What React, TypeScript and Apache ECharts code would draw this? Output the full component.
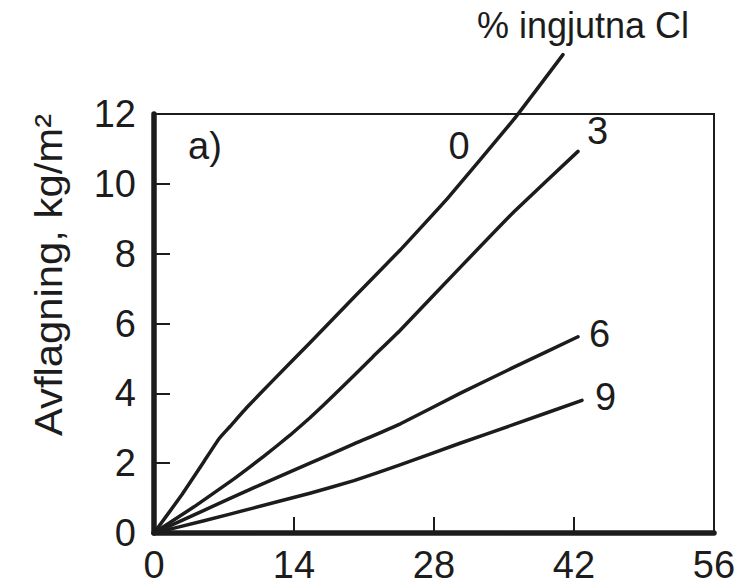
import React, { useEffect, useRef } from "react";
import * as echarts from "echarts";

const xTicks = [0, 14, 28, 42, 56];
const yTicks = [0, 2, 4, 6, 8, 10, 12];
const seriesNames = ["0", "3", "6", "9"];

const curve0: [number, number][] = [
  [0, 0], [2.8, 1.1], [5, 2.05], [6.5, 2.7], [7.6, 3.05], [9.3, 3.6], [12, 4.4],
  [15.6, 5.45], [20, 6.75], [24.6, 8.1], [29.4, 9.6], [36, 11.85], [40.9, 13.7],
];
const curve3: [number, number][] = [
  [0, 0], [4, 0.75], [8, 1.55], [11, 2.2], [13.6, 2.8], [15.6, 3.3], [18, 3.95],
  [21.9, 5.05], [24.6, 5.8], [30.6, 7.6], [36, 9.2], [42.4, 10.93],
];
const curve6: [number, number][] = [
  [0, 0], [5, 0.65], [10, 1.3], [15.6, 2.0], [20, 2.55], [24.6, 3.12], [30.6, 4.0],
  [36, 4.75], [42.4, 5.62],
];
const curve9: [number, number][] = [
  [0, 0], [5, 0.35], [10, 0.72], [15.6, 1.14], [20, 1.5], [24.6, 1.95], [30.6, 2.57],
  [36, 3.11], [42.8, 3.8],
];

const FONT = "'Liberation Sans', Arial, Helvetica, sans-serif";
const INK = "#1c1c1c";

export default function App() {
  const ref = useRef<HTMLDivElement>(null);
  useEffect(() => {
    if (!ref.current) return;
    const chart = echarts.init(ref.current, undefined, { renderer: "svg" });
    const curves = [curve0, curve3, curve6, curve9];
    const labelOffsets: ([number, number] | null)[] = [null, [9, -20], [11, -3], [13, -3]];
    chart.setOption({
      animation: false,
      backgroundColor: "#ffffff",
      grid: {
        left: 154,
        right: 29,
        top: 114,
        bottom: 55,
        show: true,
        borderColor: INK,
        borderWidth: 2,
        backgroundColor: "transparent",
      },
      xAxis: {
        type: "value",
        min: xTicks[0],
        max: xTicks[xTicks.length - 1],
        interval: 14,
        axisLine: { show: true, onZero: false, lineStyle: { color: INK, width: 5.5 } },
        axisTick: { show: true, inside: true, length: 16, lineStyle: { color: INK, width: 2 } },
        axisLabel: { color: INK, fontSize: 38, fontFamily: FONT, margin: 13 },
        splitLine: { show: false },
      },
      yAxis: {
        type: "value",
        min: yTicks[0],
        max: yTicks[yTicks.length - 1],
        interval: 2,
        axisLine: { show: true, onZero: false, lineStyle: { color: INK, width: 5.5 } },
        axisTick: { show: true, inside: true, length: 16, lineStyle: { color: INK, width: 2 } },
        axisLabel: { color: INK, fontSize: 38, fontFamily: FONT, margin: 18 },
        splitLine: { show: false },
      },
      series: curves.map((data, i) => ({
        type: "line",
        name: seriesNames[i],
        data,
        clip: false,
        smooth: 0.1,
        symbol: "none",
        lineStyle: { color: INK, width: 3.5, join: "round", cap: "round" },
        endLabel: labelOffsets[i]
          ? {
              show: true,
              formatter: seriesNames[i],
              color: INK,
              fontSize: 38,
              fontFamily: FONT,
              distance: 0,
              offset: labelOffsets[i],
            }
          : { show: false },
      })),
      graphic: [
        {
          type: "text",
          x: 583,
          y: 25,
          style: {
            text: "% ingjutna Cl",
            fill: INK,
            font: `36px ${FONT}`,
            align: "center",
            verticalAlign: "middle",
          },
        },
        {
          type: "text",
          x: 49,
          y: 275,
          rotation: Math.PI / 2,
          scaleX: 1.1,
          style: {
            text: "Avflagning, kg/m²",
            fill: INK,
            font: `38px ${FONT}`,
            align: "center",
            verticalAlign: "middle",
          },
        },
        {
          type: "text",
          x: 205,
          y: 146,
          style: {
            text: "a)",
            fill: INK,
            font: `38px ${FONT}`,
            align: "center",
            verticalAlign: "middle",
          },
        },
        {
          type: "text",
          x: 459,
          y: 146,
          style: {
            text: seriesNames[0],
            fill: INK,
            font: `38px ${FONT}`,
            align: "center",
            verticalAlign: "middle",
          },
        },
      ],
    });
    return () => chart.dispose();
  }, []);
  return (
    <div
      ref={ref}
      style={{ position: "absolute", left: 0, top: 0, width: 743, height: 588, background: "#fff" }}
    />
  );
}
